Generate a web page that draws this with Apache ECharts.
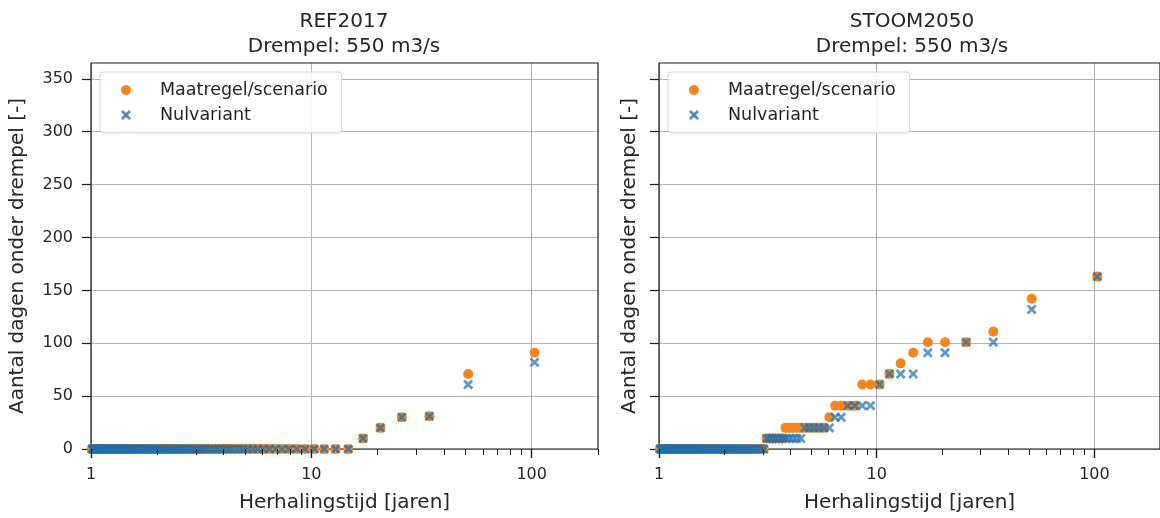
<!DOCTYPE html>
<html>
<head>
<meta charset="utf-8">
<title>Aantal dagen onder drempel</title>
<script src="https://cdn.jsdelivr.net/npm/echarts@6/dist/echarts.min.js"></script>
<style>
  html, body { margin: 0; padding: 0; background: #fff; }
  #chart { width: 1160px; height: 518px; }
</style>
</head>
<body>
<div id="chart"></div>
<script>
// herhalingstijd per rang (jaren)
const herhalingstijd = [
  103.00, 51.50, 34.33, 25.75, 20.60, 17.17, 14.71, 12.88, 11.44, 10.30, 9.36, 8.58, 7.92, 7.36, 6.87, 6.44, 6.06,
  5.72, 5.42, 5.15, 4.90, 4.68, 4.48, 4.29, 4.12, 3.96, 3.81, 3.68, 3.55, 3.43, 3.32, 3.22, 3.12, 3.03,
  2.94, 2.86, 2.78, 2.71, 2.64, 2.58, 2.51, 2.45, 2.40, 2.34, 2.29, 2.24, 2.19, 2.15, 2.10, 2.06, 2.02,
  1.98, 1.94, 1.91, 1.87, 1.84, 1.81, 1.78, 1.75, 1.72, 1.69, 1.66, 1.63, 1.61, 1.58, 1.56, 1.54, 1.51,
  1.49, 1.47, 1.45, 1.43, 1.41, 1.39, 1.37, 1.36, 1.34, 1.32, 1.30, 1.29, 1.27, 1.26, 1.24, 1.23, 1.21,
  1.20, 1.18, 1.17, 1.16, 1.14, 1.13, 1.12, 1.11, 1.10, 1.08, 1.07, 1.06, 1.05, 1.04, 1.03, 1.02, 1.01
];

// REF2017
const refMaatregel = [
  91, 71, 31, 30, 20, 10, 0, 0, 0, 0, 0, 0, 0, 0, 0, 0, 0,
  0, 0, 0, 0, 0, 0, 0, 0, 0, 0, 0, 0, 0, 0, 0, 0, 0,
  0, 0, 0, 0, 0, 0, 0, 0, 0, 0, 0, 0, 0, 0, 0, 0, 0,
  0, 0, 0, 0, 0, 0, 0, 0, 0, 0, 0, 0, 0, 0, 0, 0, 0,
  0, 0, 0, 0, 0, 0, 0, 0, 0, 0, 0, 0, 0, 0, 0, 0, 0,
  0, 0, 0, 0, 0, 0, 0, 0, 0, 0, 0, 0, 0, 0, 0, 0, 0
];
const refNulvariant = [
  82, 61, 31, 30, 20, 10, 0, 0, 0, 0, 0, 0, 0, 0, 0, 0, 0,
  0, 0, 0, 0, 0, 0, 0, 0, 0, 0, 0, 0, 0, 0, 0, 0, 0,
  0, 0, 0, 0, 0, 0, 0, 0, 0, 0, 0, 0, 0, 0, 0, 0, 0,
  0, 0, 0, 0, 0, 0, 0, 0, 0, 0, 0, 0, 0, 0, 0, 0, 0,
  0, 0, 0, 0, 0, 0, 0, 0, 0, 0, 0, 0, 0, 0, 0, 0, 0,
  0, 0, 0, 0, 0, 0, 0, 0, 0, 0, 0, 0, 0, 0, 0, 0, 0
];

// STOOM2050
const stoomMaatregel = [
  163, 142, 111, 101, 101, 101, 91, 81, 71, 61, 61, 61, 41, 41, 41, 41, 30,
  20, 20, 20, 20, 20, 20, 20, 20, 20, 20, 10, 10, 10, 10, 10, 10, 0,
  0, 0, 0, 0, 0, 0, 0, 0, 0, 0, 0, 0, 0, 0, 0, 0, 0,
  0, 0, 0, 0, 0, 0, 0, 0, 0, 0, 0, 0, 0, 0, 0, 0, 0,
  0, 0, 0, 0, 0, 0, 0, 0, 0, 0, 0, 0, 0, 0, 0, 0, 0,
  0, 0, 0, 0, 0, 0, 0, 0, 0, 0, 0, 0, 0, 0, 0, 0, 0
];
const stoomNulvariant = [
  163, 132, 101, 101, 91, 91, 71, 71, 71, 61, 41, 41, 41, 41, 30, 30, 20,
  20, 20, 20, 20, 20, 10, 10, 10, 10, 10, 10, 10, 10, 10, 10, 10, 0,
  0, 0, 0, 0, 0, 0, 0, 0, 0, 0, 0, 0, 0, 0, 0, 0, 0,
  0, 0, 0, 0, 0, 0, 0, 0, 0, 0, 0, 0, 0, 0, 0, 0, 0,
  0, 0, 0, 0, 0, 0, 0, 0, 0, 0, 0, 0, 0, 0, 0, 0, 0,
  0, 0, 0, 0, 0, 0, 0, 0, 0, 0, 0, 0, 0, 0, 0, 0, 0
];

const yTicks = [0, 50, 100, 150, 200, 250, 300, 350];
const xMajorTicks = [1, 10, 100];
const xMinorTicks = [2, 3, 4, 5, 6, 7, 8, 9, 20, 30, 40, 50, 60, 70, 80, 90, 200];
const panelTitles = ['REF2017\nDrempel: 550 m3/s', 'STOOM2050\nDrempel: 550 m3/s'];
const legendNames = ['Maatregel/scenario', 'Nulvariant'];

const FONT = 'DejaVu Sans';
const TEXT = '#262626';
const TICK = '#1a1a1a';
const ORANGE = '#f7841c';
const BLUE = '#1f6fae';
// 'x' marker as a filled polygon
const CROSS = 'path://M1.9,0L5,3.1L8.1,0L10,1.9L6.9,5L10,8.1L8.1,10L5,6.9L1.9,10L0,8.1L3.1,5L0,1.9Z';

const toPoints = (vals) => herhalingstijd.map((t, i) => [t, vals[i]]);

const myChart = echarts.init(document.getElementById('chart'), null, { renderer: 'canvas' });

// panel layout (pixels)
const panels = [
  { left: 91, right: 562, center: 344, yLabels: true, yNameGap: 63, legendLeft: 100 },
  { left: 659, right: -6, center: 912, yLabels: false, yNameGap: 19, legendLeft: 668 }
];

const grid = [];
const xAxis = [];
const yAxis = [];
const title = [];
const legend = [];
const series = [];

panels.forEach((p, idx) => {
  grid.push({
    left: p.left, right: p.right, top: 63, bottom: 64,
    show: true, z: 1, borderColor: '#1a1a1a', borderWidth: 1.2, backgroundColor: 'transparent'
  });
  // major log axis: labels, grid lines, name
  xAxis.push({
    type: 'log', logBase: 10, gridIndex: idx, min: 1, max: 200, position: 'bottom', z: 0,
    axisLine: { show: false },
    axisTick: { customValues: xMajorTicks, length: 9, lineStyle: { color: TICK, width: 1.2 } },
    axisLabel: { customValues: xMajorTicks, margin: 18, fontSize: 16, color: TEXT, fontFamily: FONT },
    splitLine: { show: true, lineStyle: { color: '#b4b4b4', width: 1 } },
    name: 'Herhalingstijd [jaren]', nameLocation: 'middle', nameGap: 44,
    nameTextStyle: { fontSize: 20, color: TEXT, fontFamily: FONT }
  });
  // major ticks again, drawn above the markers
  xAxis.push({
    type: 'log', logBase: 10, gridIndex: idx, min: 1, max: 200, position: 'bottom', z: 5,
    axisLine: { show: false },
    axisTick: { customValues: xMajorTicks, length: 9, lineStyle: { color: TICK, width: 1.2 } },
    axisLabel: { show: false },
    splitLine: { show: false }
  });
  // minor ticks
  xAxis.push({
    type: 'log', logBase: 10, gridIndex: idx, min: 1, max: 200, position: 'bottom', z: 5,
    axisLine: { show: false },
    axisTick: { customValues: xMinorTicks, length: 6, lineStyle: { color: TICK, width: 1 } },
    axisLabel: { show: false },
    splitLine: { show: false }
  });
  yAxis.push({
    type: 'value', gridIndex: idx, min: 0, max: 365, z: 0,
    axisLine: { show: false },
    axisTick: { customValues: yTicks, length: 9, lineStyle: { color: TICK, width: 1.2 } },
    axisLabel: { show: p.yLabels, customValues: yTicks, margin: 18, fontSize: 16, color: TEXT, fontFamily: FONT },
    splitLine: { show: true, lineStyle: { color: '#b4b4b4', width: 1 } },
    name: 'Aantal dagen onder drempel [-]', nameLocation: 'middle', nameGap: p.yNameGap,
    nameTextStyle: { fontSize: 20, color: TEXT, fontFamily: FONT }
  });
  title.push({
    text: panelTitles[idx], left: p.center, top: 9, padding: 0, textAlign: 'center',
    textStyle: { fontSize: 20, fontWeight: 'normal', color: TEXT, fontFamily: FONT, lineHeight: 25 }
  });
  legend.push({
    left: p.legendLeft, top: 72, orient: 'vertical', selectedMode: false,
    itemWidth: 10, itemHeight: 10, itemGap: 7,
    padding: [9, 14, 9, 21],
    backgroundColor: 'rgba(255,255,255,0.85)', borderColor: '#d4d4d4', borderWidth: 1, borderRadius: 3,
    textStyle: { fontSize: 17.5, lineHeight: 17, color: TEXT, fontFamily: FONT, padding: [0, 0, 0, 24] },
    data: [
      { name: legendNames[0], icon: 'circle', itemStyle: { color: ORANGE } },
      { name: legendNames[1], icon: CROSS, itemStyle: { color: BLUE, opacity: 0.8 } }
    ]
  });
});

const panelData = [[refMaatregel, refNulvariant], [stoomMaatregel, stoomNulvariant]];
panelData.forEach((pair, idx) => {
  series.push({
    name: legendNames[0], type: 'scatter', xAxisIndex: idx * 3, yAxisIndex: idx,
    symbol: 'circle', symbolSize: 10, z: 2,
    itemStyle: { color: ORANGE, opacity: 1 },
    data: toPoints(pair[0])
  });
  series.push({
    name: legendNames[1], type: 'scatter', xAxisIndex: idx * 3, yAxisIndex: idx,
    symbol: CROSS, symbolSize: 10, z: 3,
    itemStyle: { color: BLUE, opacity: 0.72 },
    data: toPoints(pair[1])
  });
});

const option = {
  animation: false,
  backgroundColor: '#ffffff',
  textStyle: { fontFamily: FONT },
  title, legend, grid, xAxis, yAxis, series
};

myChart.setOption(option);
</script>
</body>
</html>
